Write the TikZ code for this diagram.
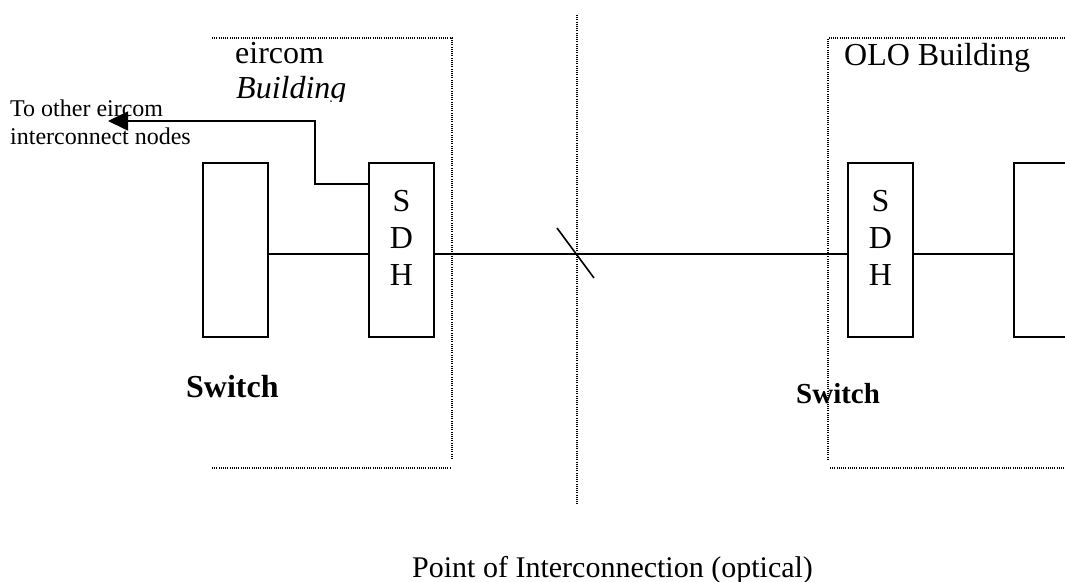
\documentclass[tikz,border=0pt]{standalone}
\usepackage{fontspec}
\setmainfont{Liberation Serif}
\usetikzlibrary{arrows.meta}
\begin{document}
\begin{tikzpicture}[x=1pt,y=-1pt,
  boxline/.style={draw,line width=1.6pt,inner sep=0pt},
  unitbox/.style={boxline,minimum width=65pt,minimum height=174pt},
  dotline/.style={line width=1.3pt,dash pattern=on 1pt off 1.2pt},
  wire/.style={line width=1.6pt},
  bigtext/.style={inner sep=0pt,font=\fontsize{32}{37}\selectfont},
  smalltext/.style={inner sep=0pt,align=left,font=\fontsize{24}{28}\selectfont}]
\useasboundingbox (0,0) rectangle (1065,581);
% building outlines
\draw[dotline] (212,38) -- (452,38) -- (452,460);
\draw[dotline] (212,468) -- (450,468);
\draw[dotline] (1065,38) -- (828,38) -- (828,460);
\draw[dotline] (830,468) -- (1065,468);
\draw[dotline] (577,15) -- (577,505);
% units
\node[unitbox] (sw1) at (235.5,250) {};
\node[unitbox] (sdh1) at (401.5,250) {};
\node[unitbox] (sdh2) at (880.5,250) {};
\node[unitbox] (sw2) at (1046.5,250) {};
\node[bigtext,align=center] (sdh1t) at (401.5,238) {S\\D\\H};
\node[bigtext,align=center] (sdh2t) at (880.5,238) {S\\D\\H};
% links
\draw[wire] (sw1.east |- 0,254) -- (sdh1.west |- 0,254);
\draw[wire] (sdh1.east |- 0,254) -- (sdh2.west |- 0,254);
\draw[wire] (sdh2.east |- 0,254) -- (sw2.west |- 0,254);
\draw[wire] (557,228) -- (594,278);
\coordinate (otherend) at (108,121);
\draw[wire,-{Triangle[length=20pt,width=19pt]}] (sdh1.west |- 0,184) -- (315,184) -- (315,121) -- (otherend);
% texts
\node[bigtext,anchor=base west] (eir) at (235,63) {eircom};
\begin{scope}
\clip (200,70) rectangle (420,101);
\node[bigtext,anchor=base west] (bld) at (236,98) {\itshape Building};
\end{scope}
\node[bigtext,anchor=base west] (olo) at (844,65) {OLO Building};
\node[smalltext,anchor=base west] (other) at (10,144) {To other eircom\\interconnect nodes};
\node[bigtext,anchor=base west] (swl) at (186,397) {\bfseries Switch};
\node[inner sep=0pt,anchor=base west,font=\fontsize{29}{33}\selectfont\bfseries] (swr) at (796,403) {Switch};
\node[inner sep=0pt,anchor=base west,font=\fontsize{30}{34}\selectfont] (poi) at (412,577) {Point of Interconnection (optical)};
\end{tikzpicture}
\end{document}
